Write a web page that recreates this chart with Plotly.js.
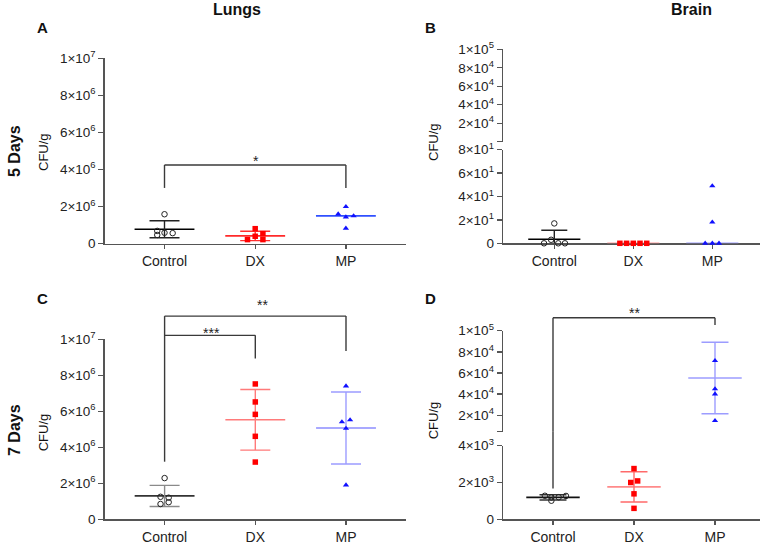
<!DOCTYPE html>
<html>
<head>
<meta charset="utf-8">
<script src="https://cdn.plot.ly/plotly-3.0.1.min.js"></script>
<style>html,body{margin:0;padding:0;background:#fff;}#chart{width:767px;height:553px;}</style>
</head>
<body>
<div id="chart"></div>
<script>
// ---------------- DATA ----------------
const categories = ['Control', 'DX', 'MP'];

// Panel A - Lungs, 5 days (CFU/g)
const lung5Control = [1.58e6, 0.68e6, 0.46e6, 0.58e6, 0.56e6];
const lung5DX      = [0.80e6, 0.53e6, 0.39e6, 0.21e6, 0.21e6];
const lung5MP      = [1.99e6, 1.59e6, 1.43e6, 1.49e6, 0.82e6];
const lung5Mean    = [0.77e6, 0.41e6, 1.49e6];
const lung5SD      = [0.46e6, 0.255e6, null];

// Panel B - Brain, 5 days
const brain5Control = [17, 3, 0, 0, 0];
const brain5DX      = [0, 0, 0, 0, 0];
const brain5MP      = [49, 18, 0, 0, 0];
const brain5Mean    = [3.4, 0, 0];
const brain5SD      = [7.7, null, null];

// Panel C - Lungs, 7 days
const lung7Control = [2.29e6, 1.25e6, 1.20e6, 0.95e6, 0.85e6];
const lung7DX      = [7.52e6, 6.52e6, 5.83e6, 4.61e6, 3.18e6];
const lung7MP      = [7.40e6, 5.41e6, 5.52e6, 5.05e6, 1.90e6];
const lung7Mean    = [1.30e6, 5.53e6, 5.07e6];
const lung7SD      = [0.585e6, 1.685e6, 2.0e6];

// Panel D - Brain, 7 days
const brain7Control = [1280, 1190, 1200, 1270, 1010];
const brain7DX      = [2757, 2000, 2086, 1384, 595];
const brain7MP      = [71600, 44900, 40100, 14900];
const brain7Mean    = [1190, 1762, 55275];
const brain7SD      = [143, 819, 33755];

// Tick values / labels
const lungTicks = [0, 2e6, 4e6, 6e6, 8e6, 1e7];
const lungTickText = ['0', '2×10<sup>6</sup>', '4×10<sup>6</sup>', '6×10<sup>6</sup>', '8×10<sup>6</sup>', '1×10<sup>7</sup>'];
const brain5LowTicks = [0, 20, 40, 60, 80];
const brain5LowText = ['0', '2×10<sup>1</sup>', '4×10<sup>1</sup>', '6×10<sup>1</sup>', '8×10<sup>1</sup>'];
const brain5HighTicks = [0, 2e4, 4e4, 6e4, 8e4, 1e5];
const brain5HighText = [' ', '2×10<sup>4</sup>', '4×10<sup>4</sup>', '6×10<sup>4</sup>', '8×10<sup>4</sup>', '1×10<sup>5</sup>'];
const brain7LowTicks = [0, 2000, 4000];
const brain7LowText = ['0', '2×10<sup>3</sup>', '4×10<sup>3</sup>'];
const brain7HighTicks = [4500, 2e4, 4e4, 6e4, 8e4, 1e5];
const brain7HighText = [' ', '2×10<sup>4</sup>', '4×10<sup>4</sup>', '6×10<sup>4</sup>', '8×10<sup>4</sup>', '1×10<sup>5</sup>'];

// ---------------- LAYOUT GEOMETRY / STYLE ----------------
const W = 767, H = 553;
const FONT = 'Arial, Liberation Sans, sans-serif';
const px = x => x / W;
const py = y => 1 - y / H;
const geo = {
  A: {x: [105, 406], y: [243.5, 58.3], ctr: 164.5, step: 90.7, cap: 15},
  B: {x: [503.3, 760], lo: [243.3, 149.7], hi: [141.7, 49.3], ctr: 554.3, step: 79, cap: 13},
  C: {x: [105, 406], y: [519.3, 339.3], ctr: 164.6, step: 90.7, cap: 15},
  D: {x: [503.3, 760], lo: [519.3, 445.7], hi: [431.7, 330.7], ctr: 553, step: 81, cap: 13.5}
};
const xr = g => [(g.x[0] - g.ctr) / g.step, (g.x[1] - g.ctr) / g.step];

// jitter offsets (in category units) for point placement
const jit = {
  A: [[0, -0.08, -0.08, 0, 0.09], [0, 0.085, 0, -0.085, 0.085], [0, -0.085, 0, 0.085, 0]],
  B: [[0, -0.04, -0.13, 0.05, 0.135], [-0.17, -0.085, 0, 0.085, 0.17], [0, 0, -0.09, 0, 0.085]],
  C: [[0, -0.045, 0.045, 0.045, -0.045], [0, 0, 0, 0, 0], [0, -0.045, 0.045, 0, 0]],
  D: [[-0.1, -0.02, 0.07, 0.16, -0.02], [0, -0.04, 0.045, 0, 0], [0, 0, 0, 0]]
};

const markerStyle = [
  {symbol: 'circle-open', size: 5.5, color: '#222', line: {width: 1, color: '#222'}},
  {symbol: 'square', size: 5.5, color: '#ff0000'},
  {symbol: 'triangle-up', size: 5.5, color: '#1010ff'}
];
const lineColors = {
  A: ['#000000', '#ff2a2a', '#3050ff'],
  B: ['#000000', '#ff9a9a', '#9a9aff'],
  C: ['#333333', '#ff7a7a', '#8c8cff'],
  D: ['#111111', '#ff8a8a', '#9c9cff']
};
const errColors = {
  A: ['#222222', '#ff3030', '#3050ff'],
  B: ['#222222', '#ff9a9a', '#9a9aff'],
  C: ['#8a8a8a', '#ff7a7a', '#9c9cff'],
  D: ['#333333', '#ff6a6a', '#9c9cff']
};
const HALF = 0.33;

const traces = [];
const pointTraces = [];
function addGroup(panel, xa, ya, gi, vals, mean, sd) {
  const lc = lineColors[panel][gi], ec = errColors[panel][gi];
  traces.push({
    type: 'scatter', mode: 'lines', xaxis: xa, yaxis: ya,
    x: [gi - HALF, gi + HALF], y: [mean, mean],
    line: {color: lc, width: 1.6}, hoverinfo: 'skip', showlegend: false
  });
  if (sd !== null && sd !== undefined) {
    traces.push({
      type: 'scatter', mode: 'markers', xaxis: xa, yaxis: ya,
      x: [gi], y: [mean], marker: {size: 1, opacity: 0},
      error_y: {type: 'data', array: [sd], visible: true, color: ec, thickness: 1.4, width: geo[panel].cap},
      hoverinfo: 'skip', showlegend: false
    });
  }
  pointTraces.push({
    type: 'scatter', mode: 'markers', xaxis: xa, yaxis: ya,
    x: vals.map((v, i) => gi + jit[panel][gi][i]), y: vals,
    marker: markerStyle[gi], cliponaxis: false, showlegend: false,
    name: categories[gi]
  });
}

[lung5Control, lung5DX, lung5MP].forEach((v, i) => addGroup('A', 'x', 'y', i, v, lung5Mean[i], lung5SD[i]));
[brain5Control, brain5DX, brain5MP].forEach((v, i) => addGroup('B', 'x2', 'y2', i, v, brain5Mean[i], brain5SD[i]));
[lung7Control, lung7DX, lung7MP].forEach((v, i) => addGroup('C', 'x3', 'y4', i, v, lung7Mean[i], lung7SD[i]));
addGroup('D', 'x4', 'y5', 0, brain7Control, brain7Mean[0], brain7SD[0]);
addGroup('D', 'x4', 'y5', 1, brain7DX, brain7Mean[1], brain7SD[1]);
addGroup('D', 'x4', 'y6', 2, brain7MP, brain7Mean[2], brain7SD[2]);

traces.push({type: 'scatter', mode: 'markers', xaxis: 'x2', yaxis: 'y3', x: [], y: [], showlegend: false, hoverinfo: 'skip'});

const AXC = '#555555';
function xAxis(g, anchor) {
  return {
    domain: [px(g.x[0]), px(g.x[1])], range: xr(g), anchor: anchor,
    tickvals: [0, 1, 2], ticktext: categories, ticks: 'outside', ticklen: 4, tickwidth: 1.4,
    tickcolor: AXC, showline: true, linecolor: AXC, linewidth: 1.7, showgrid: false, zeroline: false,
    tickfont: {family: FONT, size: 14, color: '#222'}, layer: 'below traces', fixedrange: true
  };
}
function yAxis(dom, range, tv, tt, anchor) {
  return {
    domain: [py(dom[0]), py(dom[1])], range: range, anchor: anchor,
    tickvals: tv, ticktext: tt, ticks: 'outside', ticklen: 5, tickwidth: 1.4, tickcolor: AXC,
    showline: true, linecolor: AXC, linewidth: 1.7, showgrid: false, zeroline: false,
    tickfont: {family: FONT, size: 13.5, color: '#222'}, layer: 'below traces', fixedrange: true
  };
}

const frac = (v, r) => (v - r[0]) / (r[1] - r[0]);
const rA = [0, 1e7], rB1 = [0, 80], rB2 = [0, 1e5], rC = [0, 1e7], rD1 = [0, 4000], rD2 = [4500, 1e5];
// gap between the two segments of panel D, as a fraction of the lower segment height
const dGap = (geo.D.lo[1] - geo.D.hi[0]) / (geo.D.lo[0] - geo.D.lo[1]);

const BR = {color: '#3a3a3a', width: 1.4};
function seg(xref, yref, x0, y0, x1, y1) {
  return {type: 'line', xref: xref, yref: yref, x0: x0, y0: y0, x1: x1, y1: y1, line: BR, layer: 'above'};
}
const shapes = [
  seg('x', 'y domain', 0, frac(3.0e6, rA), 0, frac(4.24e6, rA)),
  seg('x', 'y domain', 0, frac(4.24e6, rA), 2, frac(4.24e6, rA)),
  seg('x', 'y domain', 2, frac(4.24e6, rA), 2, frac(3.0e6, rA)),
  seg('x3', 'y4 domain', 0, frac(3.2e6, rC), 0, frac(11.29e6, rC)),
  seg('x3', 'y4 domain', 0, frac(11.29e6, rC), 2, frac(11.29e6, rC)),
  seg('x3', 'y4 domain', 2, frac(11.29e6, rC), 2, frac(9.35e6, rC)),
  seg('x3', 'y4 domain', 0, frac(10.22e6, rC), 1, frac(10.22e6, rC)),
  seg('x3', 'y4 domain', 1, frac(10.22e6, rC), 1, frac(8.94e6, rC)),
  seg('x4', 'y5 domain', 0, frac(1676, rD1), 0, 1 + dGap),
  seg('x4', 'y6 domain', 0, 0, 0, frac(112300, rD2)),
  seg('x4', 'y6 domain', 0, frac(112300, rD2), 2, frac(112300, rD2)),
  seg('x4', 'y6 domain', 2, frac(112300, rD2), 2, frac(105400, rD2))
];

function ann(text, x, y, size, opts) {
  return Object.assign({
    text: text, x: px(x), y: py(y), xref: 'paper', yref: 'paper', showarrow: false,
    xanchor: 'center', yanchor: 'middle', font: {family: FONT, size: size, color: '#111'}
  }, opts || {});
}
const STAR = {family: FONT, size: 14, color: '#222'};
const annotations = [
  ann('<b>Lungs</b>', 236.7, 10, 16),
  ann('<b>Brain</b>', 691.7, 10, 16),
  ann('<b>A</b>', 42, 27, 15),
  ann('<b>B</b>', 430, 27, 15),
  ann('<b>C</b>', 42, 298, 15),
  ann('<b>D</b>', 430, 298, 15),
  ann('<b>5 Days</b>', 14, 151, 16, {textangle: -90}),
  ann('<b>7 Days</b>', 14, 430, 16, {textangle: -90}),
  ann('CFU/g', 43.3, 151.7, 13, {textangle: -90}),
  ann('CFU/g', 433.3, 141.7, 13, {textangle: -90}),
  ann('CFU/g', 43.3, 432, 13, {textangle: -90}),
  ann('CFU/g', 433.3, 420, 13, {textangle: -90}),
  {text: '*', x: 1.01, xref: 'x', y: frac(4.45e6, rA), yref: 'y domain', showarrow: false, font: STAR, yanchor: 'middle'},
  {text: '***', x: 0.52, xref: 'x3', y: frac(10.35e6, rC), yref: 'y4 domain', showarrow: false, font: STAR, yanchor: 'middle'},
  {text: '**', x: 1.08, xref: 'x3', y: frac(11.9e6, rC), yref: 'y4 domain', showarrow: false, font: STAR, yanchor: 'middle'},
  {text: '**', x: 1.0, xref: 'x4', y: frac(116500, rD2), yref: 'y6 domain', showarrow: false, font: STAR, yanchor: 'middle'}
];

const layout = {
  width: W, height: H, autosize: false,
  margin: {l: 0, r: 0, t: 0, b: 0, pad: 0},
  paper_bgcolor: '#ffffff', plot_bgcolor: 'rgba(0,0,0,0)',
  showlegend: false, hovermode: false,
  font: {family: FONT, color: '#222'},
  xaxis: xAxis(geo.A, 'y'),
  yaxis: yAxis(geo.A.y, rA, lungTicks, lungTickText, 'x'),
  xaxis2: xAxis(geo.B, 'y2'),
  yaxis2: yAxis(geo.B.lo, rB1, brain5LowTicks, brain5LowText, 'x2'),
  yaxis3: yAxis(geo.B.hi, rB2, brain5HighTicks, brain5HighText, 'x2'),
  xaxis3: xAxis(geo.C, 'y4'),
  yaxis4: yAxis(geo.C.y, rC, lungTicks, lungTickText, 'x3'),
  xaxis4: xAxis(geo.D, 'y5'),
  yaxis5: yAxis(geo.D.lo, rD1, brain7LowTicks, brain7LowText, 'x4'),
  yaxis6: yAxis(geo.D.hi, rD2, brain7HighTicks, brain7HighText, 'x4'),
  shapes: shapes,
  annotations: annotations
};

Plotly.newPlot('chart', traces.concat(pointTraces), layout, {staticPlot: true, displayModeBar: false});
</script>
</body>
</html>
